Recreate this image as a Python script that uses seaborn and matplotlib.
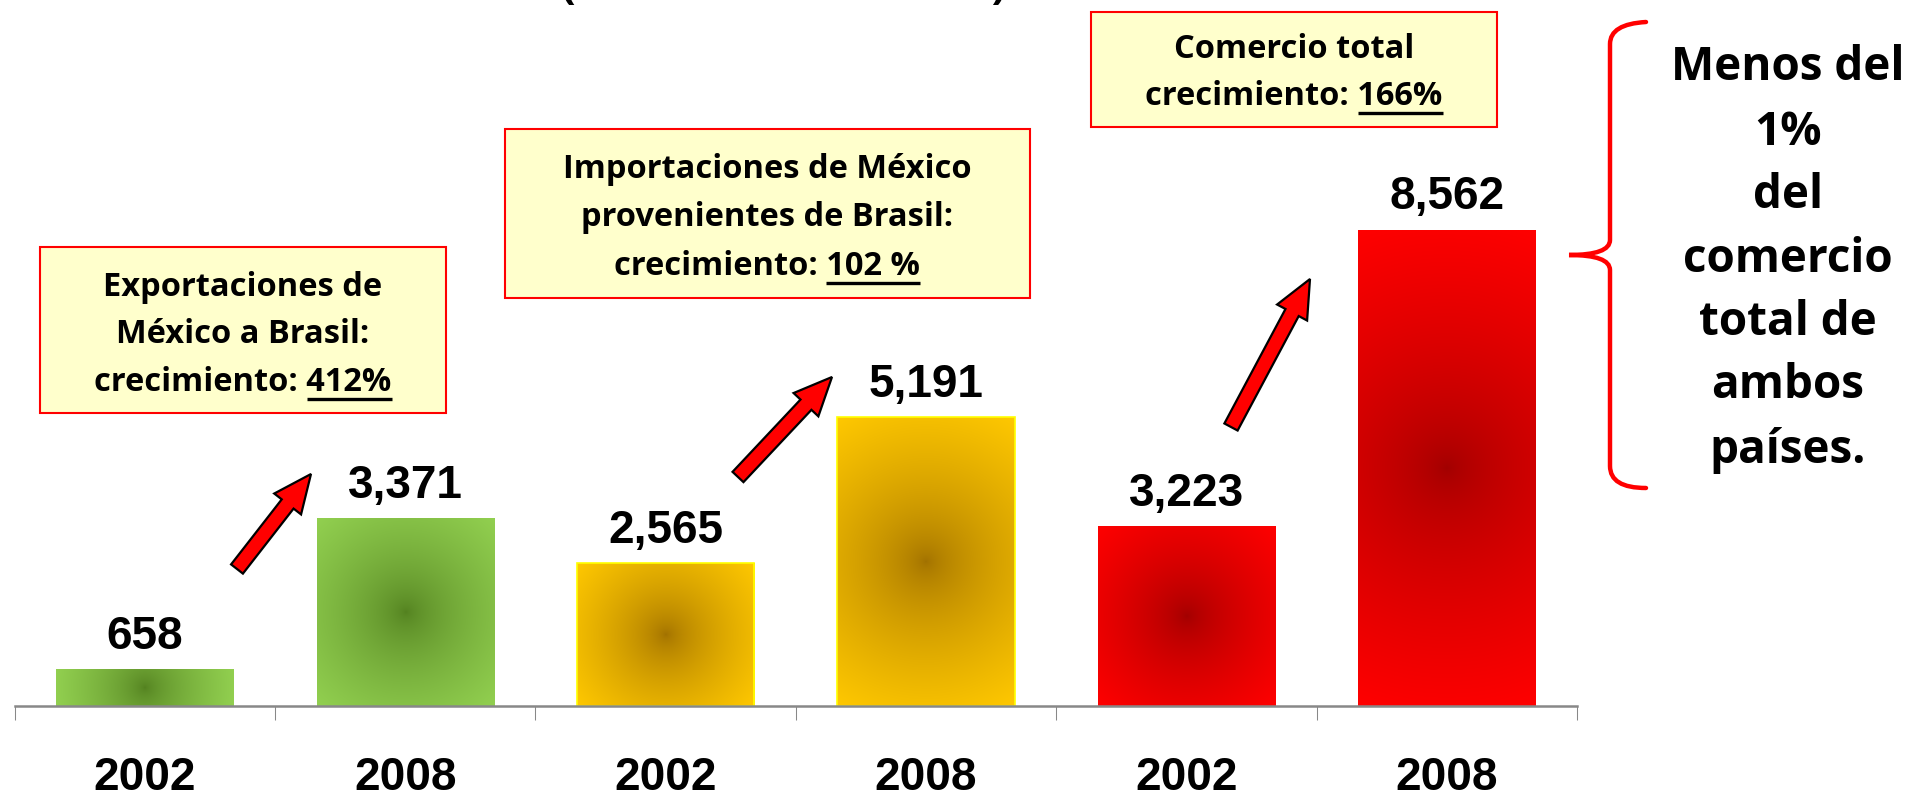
import numpy as np
import pandas as pd
import matplotlib
matplotlib.use("Agg")
import matplotlib.pyplot as plt
import seaborn as sns
from matplotlib.patches import Rectangle, FancyArrow, PathPatch
from matplotlib.path import Path

# data
groups = ["Exportaciones", "Exportaciones", "Importaciones", "Importaciones",
          "Comercio total", "Comercio total"]
years = ["2002", "2008", "2002", "2008", "2002", "2008"]
values = [658, 3371, 2565, 5191, 3223, 8562]

edge_colors = ["#92D050", "#92D050", "#FFC800", "#FFC800", "#FF0000", "#FF0000"]
center_colors = ["#52801F", "#52801F", "#A07000", "#A07000", "#A00000", "#A00000"]
border_colors = ["none", "none", "#FFFF00", "#FFFF00", "none", "none"]

box_texts = [
    ["Exportaciones de", "México a Brasil:", "crecimiento: 412%"],
    ["Importaciones de México", "provenientes de Brasil:", "crecimiento: 102 %"],
    ["Comercio total", "crecimiento: 166%"],
]
box_growth = ["412%", "102 %", "166%"]
side_text = ["Menos del", "1%", "del", "comercio", "total de", "ambos", "países."]
subtitle = "(millones de dólares)"

W, H = 1910, 801
SANS = ["Open Sans", "DejaVu Sans"]
ARIAL = ["Liberation Sans", "DejaVu Sans"]
BOX_FS = 23.5

sns.set_style("white")
plt.rcParams["text.color"] = "black"
fig = plt.figure(figsize=(W / 100, H / 100), dpi=100)
ax = fig.add_axes([14.6 / W, 95 / H, (1577 - 14.6) / W, 706 / H])

df = pd.DataFrame({"bar": [f"{g} {y}" for g, y in zip(groups, years)],
                   "value": values})
sns.barplot(data=df, x="bar", y="value", hue="bar", palette=edge_colors,
            width=0.68, saturation=1, legend=False, ax=ax)
ax.set_xlim(-0.5, 5.5)
ax.set_ylim(0, 12700)

# radial gradient fill for each bar
for i, patch in enumerate(ax.patches):
    x0, w, h = patch.get_x(), patch.get_width(), patch.get_height()
    (px0, py0), (px1, py1) = ax.transData.transform([(x0, 0), (x0 + w, h)])
    nx, ny = max(int(round(px1 - px0)), 2), max(int(round(py1 - py0)), 2)
    yy, xx = np.mgrid[0:ny, 0:nx] + 0.5
    r = np.hypot(xx - nx / 2, yy - ny / 2) / np.hypot(nx / 2, ny / 2)
    t = (np.clip(r, 0, 1) ** 0.65)[..., None]
    a = np.array(matplotlib.colors.to_rgb(center_colors[i]))
    b = np.array(matplotlib.colors.to_rgb(edge_colors[i]))
    img = a * (1 - t) + b * t
    ax.imshow(img, extent=[x0, x0 + w, 0, h], aspect="auto", origin="lower",
              zorder=1.5, interpolation="bilinear")
    patch.set_facecolor("none")
    patch.set_edgecolor(border_colors[i])
    patch.set_linewidth(1.2)
    patch.set_zorder(2)
    ax.annotate(f"{values[i]:,}", (x0 + w / 2, h),
                xytext=(0, 15), textcoords="offset points", ha="center",
                va="baseline", fontsize=33, fontweight="bold", family=ARIAL,
                color="black")

ax.set_xlim(-0.5, 5.5)
ax.set_ylim(0, 12700)
sns.despine(ax=ax, left=True)
ax.spines["bottom"].set_color("#888888")
ax.spines["bottom"].set_linewidth(1.8)
ax.set_yticks([])
ax.set_xlabel("")
ax.set_ylabel("")
ax.set_xticks(range(len(years)))
ax.set_xticklabels(years, fontsize=33, fontweight="bold", family=ARIAL,
                   color="black")
ax.tick_params(axis="x", which="major", length=0, pad=36)
ax.set_xticks(np.arange(-0.5, len(years), 1), minor=True)
ax.tick_params(axis="x", which="minor", bottom=True, length=10, width=0.75,
               color="#888888", direction="out")

# overlay in pixel coordinates for boxes, arrows, brace
ov = fig.add_axes([0, 0, 1, 1], zorder=5)
ov.set_xlim(0, W)
ov.set_ylim(H, 0)
ov.axis("off")
ov.patch.set_alpha(0)

ov.text(784, -2, subtitle, ha="center", va="baseline", fontsize=31,
        fontweight="bold", family=SANS, color="black")

boxes = [(40, 247, 406, 166), (505, 129, 525, 169), (1091, 12, 406, 115)]
box_cx = [243, 767, 1294]
box_base = [[296, 343, 391], [178, 226, 275], [58, 105]]
line_objs = []
for (bx, by, bw, bh), cx, bases, lines in zip(boxes, box_cx, box_base, box_texts):
    ov.add_patch(Rectangle((bx, by), bw, bh, fc="#FFFFCC", ec="#FF0000", lw=1.5))
    for yb, s in zip(bases, lines):
        t = ov.text(cx, yb, s, ha="center", va="baseline", fontsize=BOX_FS,
                    fontweight="bold", family=SANS, color="black")
    line_objs.append((t, bases[-1]))

fig.canvas.draw()
renderer = fig.canvas.get_renderer()
for (t, yb), num in zip(line_objs, box_growth):
    bb = t.get_window_extent(renderer)
    tmp = ov.text(0, 0, num, fontsize=BOX_FS, fontweight="bold", family=SANS)
    wn = tmp.get_window_extent(renderer).width
    tmp.remove()
    ov.plot([bb.x1 - wn, bb.x1], [yb + 8, yb + 8], color="black", lw=2.4,
            solid_capstyle="butt")

arrows = [((237, 569), (311, 474)), ((738, 477), (832, 377)), ((1231, 427), (1310, 279))]
for (x0, y0), (x1, y1) in arrows:
    ov.add_patch(FancyArrow(x0, y0, x1 - x0, y1 - y0, width=15, head_width=34,
                            head_length=38, length_includes_head=True,
                            fc="#FF0000", ec="black", lw=1.6))

brace = Path(
    [(1646, 22), (1610, 24), (1610, 44), (1610, 240), (1610, 255), (1569, 255),
     (1610, 255), (1610, 270), (1610, 466), (1610, 488), (1646, 488)],
    [Path.MOVETO, Path.CURVE3, Path.CURVE3, Path.LINETO, Path.CURVE3, Path.CURVE3,
     Path.CURVE3, Path.CURVE3, Path.LINETO, Path.CURVE3, Path.CURVE3])
ov.add_patch(PathPatch(brace, fill=False, ec="#FF0000", lw=3.2, capstyle="round"))

for yb, s in zip([80, 145, 208, 272, 335, 398, 463], side_text):
    ov.text(1788, yb, s, ha="center", va="baseline", fontsize=33,
            fontweight="bold", family=SANS, color="black")

fig.savefig("out.png", dpi=100)
